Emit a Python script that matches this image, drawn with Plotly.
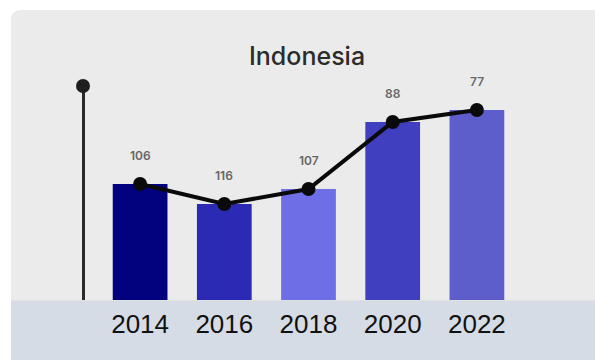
import plotly.graph_objects as go

# ---- data ----
years = ["2014", "2016", "2018", "2020", "2022"]
ranks = [106, 116, 107, 88, 77]            # labels shown above points
bar_heights = [116, 96, 111, 178, 190]     # estimated bar heights (relative units)
bar_colors = ["#02027f", "#2a2ab4", "#6e6ee6", "#3f3fc0", "#5d5dcc"]
title_text = "Indonesia"

W, H = 595, 360
xpos = list(range(len(years)))

fig = go.Figure()

fig.add_trace(go.Bar(
    x=xpos, y=bar_heights, width=0.65,
    marker=dict(color=bar_colors, line=dict(width=0)),
    hoverinfo="skip", showlegend=False,
))

fig.add_trace(go.Scatter(
    x=xpos, y=bar_heights,
    mode="lines+markers",
    line=dict(color="#0a0a0a", width=4),
    marker=dict(color="#0a0a0a", size=14),
    cliponaxis=False, showlegend=False, hoverinfo="skip",
))

for xp, h, r in zip(xpos, bar_heights, ranks):
    fig.add_annotation(
        x=xp, y=h, text=str(r), showarrow=False, yshift=29,
        font=dict(family="Inter", size=12, color="#666666", weight=600),
    )

# panel with rounded top-left corner + bottom band (decorative)
px = lambda v: v / W
py = lambda v: (H - v) / H
r = 10
panel_path = (
    f"M {px(11)},{py(300)} L {px(11)},{py(10 + r)} "
    f"Q {px(11)},{py(10)} {px(11 + r)},{py(10)} "
    f"L 1.05,{py(10)} L 1.05,{py(300)} Z"
)
fig.add_shape(type="path", xref="paper", yref="paper", path=panel_path,
              fillcolor="#ebebeb", line=dict(width=0), layer="below")
fig.add_shape(type="rect", xref="paper", yref="paper",
              x0=px(11), x1=1.05, y0=0, y1=py(300),
              fillcolor="#d6dce5", line=dict(width=0), layer="below")
fig.add_shape(type="line", xref="paper", yref="paper",
              x0=px(11), x1=1.05, y0=py(300.5), y1=py(300.5),
              line=dict(color="#e2e2e2", width=1), layer="below")

# top dot of the vertical axis
ax_x = px(83)
ax_top = py(86)
fig.add_shape(type="circle", xref="paper", yref="paper",
              xsizemode="pixel", ysizemode="pixel",
              xanchor=ax_x, yanchor=ax_top,
              x0=-7, x1=7, y0=-7, y1=7,
              fillcolor="#1e1e1e", line=dict(width=0))

fig.add_annotation(
    xref="paper", yref="paper", x=px(307), y=py(56),
    text=title_text, showarrow=False, xanchor="center", yanchor="middle",
    font=dict(family="Inter", size=25, color="#2b2b2b", weight=500),
)

fig.update_layout(
    width=W, height=H,
    margin=dict(l=0, r=0, t=0, b=0),
    paper_bgcolor="white",
    plot_bgcolor="rgba(0,0,0,0)",
    xaxis=dict(
        range=[-0.5, len(years) - 0.5], domain=[px(98), px(519)],
        tickmode="array", tickvals=xpos, ticktext=years,
        showgrid=False, zeroline=False, showline=False, ticks="",
        tickfont=dict(family="Liberation Sans", size=26, color="#111111"),
        ticklabelstandoff=6,
    ),
    yaxis=dict(
        range=[0, 214], domain=[py(300), ax_top],
        anchor="free", position=ax_x,
        showgrid=False, zeroline=False, showticklabels=False, ticks="",
        showline=True, linecolor="#2a2a2a", linewidth=3,
    ),
)

fig.write_html("out.html")
